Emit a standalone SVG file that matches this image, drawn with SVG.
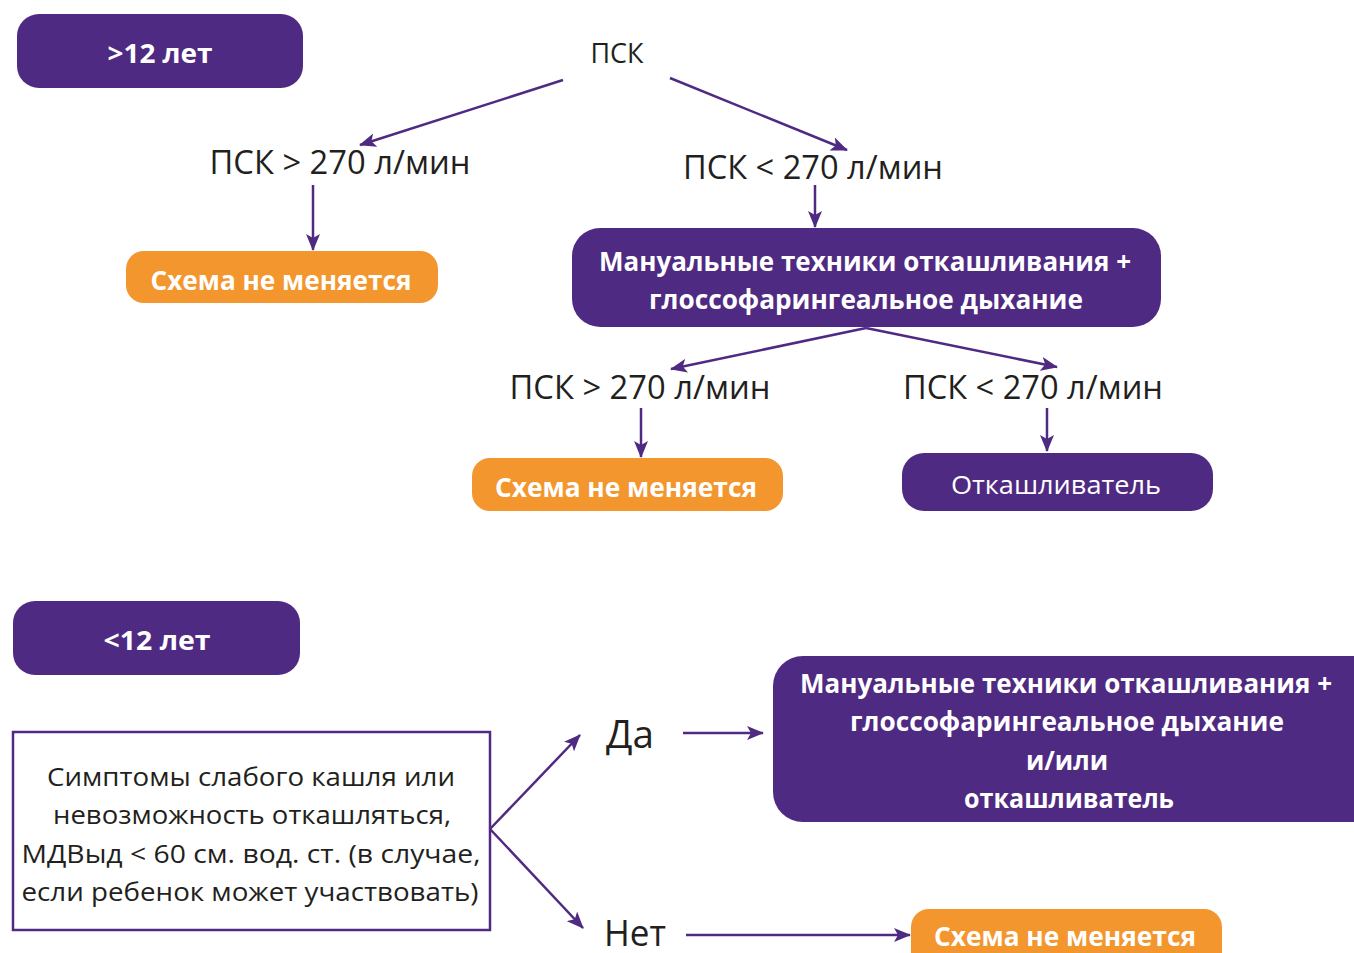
<svg xmlns="http://www.w3.org/2000/svg" width="1354" height="953" viewBox="0 0 1354 953">
<defs>
<style>
.p{fill:#4f2a82}
.o{fill:#f3962e}
.wb{fill:#fff;font-family:"Open Sans","Noto Sans",sans-serif;font-weight:bold;text-anchor:middle}
.wr{fill:#fff;font-family:"Open Sans","Noto Sans",sans-serif;text-anchor:middle}
.d{fill:#231f20;font-family:"Open Sans","Noto Sans",sans-serif;text-anchor:middle}
.c{stroke:#4f2a82;stroke-width:2.5;fill:none;marker-end:url(#ah)}
</style>
<marker id="ah" markerUnits="userSpaceOnUse" markerWidth="18" markerHeight="14" refX="16" refY="7" orient="auto">
<path d="M0,0 L17,7 L0,14 L4,7 Z" fill="#4f2a82"/>
</marker>
</defs>
<rect width="1354" height="953" fill="#fff"/>

<g id="connectors">
<line class="c" x1="563" y1="80" x2="360" y2="145"/>
<line class="c" x1="670" y1="78" x2="847" y2="150"/>
<line class="c" x1="313" y1="185" x2="313" y2="250"/>
<line class="c" x1="815" y1="185" x2="815" y2="227"/>
<line class="c" x1="866" y1="328" x2="671" y2="369"/>
<line class="c" x1="866" y1="328" x2="1057" y2="367"/>
<line class="c" x1="641" y1="408" x2="641" y2="457"/>
<line class="c" x1="1047" y1="408" x2="1047" y2="451"/>
<line class="c" x1="490" y1="829" x2="580" y2="735"/>
<line class="c" x1="490" y1="829" x2="583" y2="928"/>
<line class="c" x1="683" y1="733" x2="763" y2="733"/>
<line class="c" x1="686" y1="935" x2="910" y2="935"/>
</g>

<g id="age12plus">
<rect class="p" x="17" y="14" width="286" height="74" rx="22"/>
<text class="wb" x="160" y="63" font-size="26" textLength="105" lengthAdjust="spacingAndGlyphs">&gt;12 лет</text>
</g>

<g id="psk">
<text class="d" x="617" y="63" font-size="28" textLength="53" lengthAdjust="spacingAndGlyphs">ПСК</text>
</g>

<g id="psk-gt-1">
<text class="d" x="340" y="174" font-size="32" textLength="261" lengthAdjust="spacingAndGlyphs">ПСК &gt; 270 л/мин</text>
</g>

<g id="psk-lt-1">
<text class="d" x="813" y="179" font-size="32" textLength="260" lengthAdjust="spacingAndGlyphs">ПСК &lt; 270 л/мин</text>
</g>

<g id="no-change-1">
<rect class="o" x="126" y="251" width="312" height="52" rx="18"/>
<text class="wb" x="281" y="290" font-size="27" textLength="261" lengthAdjust="spacingAndGlyphs">Схема не меняется</text>
</g>

<g id="manual-1">
<rect class="p" x="572" y="228" width="589" height="99" rx="28"/>
<text class="wb" x="865" y="271" font-size="27" textLength="532" lengthAdjust="spacingAndGlyphs">Мануальные техники откашливания +</text>
<text class="wb" x="866" y="309" font-size="27" textLength="434" lengthAdjust="spacingAndGlyphs">глоссофарингеальное дыхание</text>
</g>

<g id="psk-gt-2">
<text class="d" x="640" y="399" font-size="32" textLength="261" lengthAdjust="spacingAndGlyphs">ПСК &gt; 270 л/мин</text>
</g>

<g id="psk-lt-2">
<text class="d" x="1033" y="399" font-size="32" textLength="260" lengthAdjust="spacingAndGlyphs">ПСК &lt; 270 л/мин</text>
</g>

<g id="no-change-2">
<rect class="o" x="472" y="458" width="311" height="53" rx="18"/>
<text class="wb" x="626" y="497" font-size="27" textLength="262" lengthAdjust="spacingAndGlyphs">Схема не меняется</text>
</g>

<g id="cough-assist-1">
<rect class="p" x="902" y="453" width="311" height="58" rx="22"/>
<text class="wr" x="1056" y="494" font-size="26" textLength="210" lengthAdjust="spacingAndGlyphs">Откашливатель</text>
</g>

<g id="age12minus">
<rect class="p" x="13" y="601" width="287" height="74" rx="22"/>
<text class="wb" x="157" y="650" font-size="26" textLength="107" lengthAdjust="spacingAndGlyphs">&lt;12 лет</text>
</g>

<g id="symptoms">
<rect x="13" y="732" width="477" height="198" fill="#fff" stroke="#4f2a82" stroke-width="2.5"/>
<text class="d" x="251" y="786" font-size="26" textLength="408" lengthAdjust="spacingAndGlyphs">Симптомы слабого кашля или</text>
<text class="d" x="252" y="824" font-size="26" textLength="398" lengthAdjust="spacingAndGlyphs">невозможность откашляться,</text>
<text class="d" x="251" y="863" font-size="26" textLength="459" lengthAdjust="spacingAndGlyphs">МДВыд &lt; 60 см. вод. ст. (в случае,</text>
<text class="d" x="250" y="901" font-size="26" textLength="457" lengthAdjust="spacingAndGlyphs">если ребенок может участвовать)</text>
</g>

<g id="yes">
<text class="d" x="630" y="748" font-size="38" textLength="48" lengthAdjust="spacingAndGlyphs">Да</text>
</g>

<g id="no">
<text class="d" x="635" y="946" font-size="36" textLength="62" lengthAdjust="spacingAndGlyphs">Нет</text>
</g>

<g id="manual-2">
<rect class="p" x="773" y="656" width="610" height="166" rx="30"/>
<text class="wb" x="1066" y="693" font-size="27" textLength="532" lengthAdjust="spacingAndGlyphs">Мануальные техники откашливания +</text>
<text class="wb" x="1067" y="731" font-size="27" textLength="434" lengthAdjust="spacingAndGlyphs">глоссофарингеальное дыхание</text>
<text class="wb" x="1067" y="770" font-size="27" textLength="82" lengthAdjust="spacingAndGlyphs">и/или</text>
<text class="wb" x="1069" y="808" font-size="27" textLength="210" lengthAdjust="spacingAndGlyphs">откашливатель</text>
</g>

<g id="no-change-3">
<rect class="o" x="911" y="909" width="311" height="70" rx="18"/>
<text class="wb" x="1065" y="946" font-size="27" textLength="262" lengthAdjust="spacingAndGlyphs">Схема не меняется</text>
</g>
</svg>
